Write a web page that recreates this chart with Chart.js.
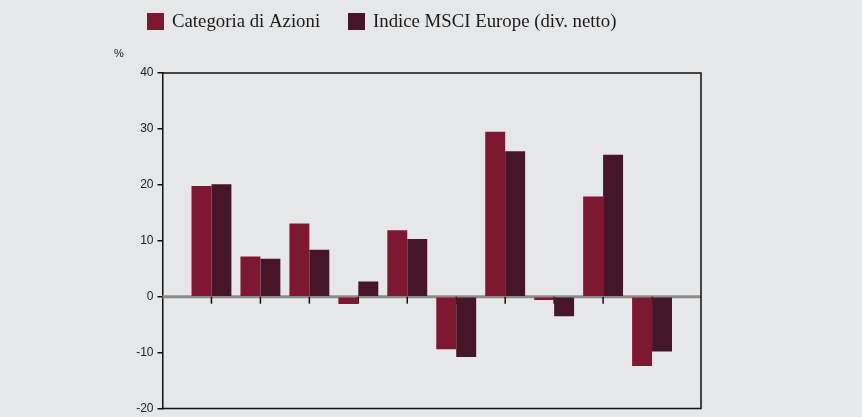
<!DOCTYPE html>
<html>
<head>
<meta charset="utf-8">
<script src="https://cdn.jsdelivr.net/npm/chart.js@4/dist/chart.umd.min.js"></script>
<style>
  html, body { margin: 0; padding: 0; background: #e6e7e9; }
  #wrap { width: 862px; height: 417px; }
</style>
</head>
<body>
<div id="wrap"><canvas id="barChart" width="862" height="417"></canvas></div>
<script>
// Categories: empty slots at both ends keep the axis spacing like the original
const categories = ['', '1', '2', '3', '4', '5', '6', '7', '8', '9', '10', ''];
const seriesNames = ['Categoria di Azioni', 'Indice MSCI Europe (div. netto)'];
const categoriaAzioni = [null, 19.8, 7.2, 13.1, -1.3, 11.9, -9.4, 29.5, -0.6, 17.9, -12.4, null];
const indiceMsci = [null, 20.1, 6.8, 8.4, 2.7, 10.3, -10.8, 26.0, -3.5, 25.4, -9.8, null];
const yTicks = [-20, -10, 0, 10, 20, 30, 40];

const colRed = '#7e1831';
const colDark = '#461628';

// Frame, zero line, x tick marks, unit label and legend
const decorations = {
    id: 'decorations',
    beforeDatasetsDraw(chart) {
        const ctx = chart.ctx;
        const area = chart.chartArea;
        const y0 = chart.scales.y.getPixelForValue(0);
        ctx.save();
        ctx.strokeStyle = '#8c8c8c';
        ctx.lineWidth = 3;
        ctx.beginPath();
        ctx.moveTo(area.left, y0);
        ctx.lineTo(area.right, y0);
        ctx.stroke();

        // short ticks under the zero line at each category
        ctx.strokeStyle = '#111';
        ctx.lineWidth = 1.5;
        for (let i = 1; i < categories.length - 1; i++) {
            const x = chart.scales.x.getPixelForValue(i);
            ctx.beginPath();
            ctx.moveTo(x, y0);
            ctx.lineTo(x, y0 + 7);
            ctx.stroke();
        }
        ctx.restore();
    },
    afterDraw(chart) {
        const ctx = chart.ctx;
        const area = chart.chartArea;
        ctx.save();
        ctx.strokeStyle = '#111';
        ctx.lineWidth = 1.5;
        ctx.beginPath();
        ctx.moveTo(area.left, area.top);
        ctx.lineTo(area.right, area.top);
        ctx.lineTo(area.right, area.bottom);
        ctx.lineTo(area.left, area.bottom);
        ctx.stroke();

        ctx.fillStyle = '#222';
        ctx.font = '11px "Liberation Sans", Arial, sans-serif';
        ctx.textAlign = 'left';
        ctx.textBaseline = 'middle';
        ctx.fillText('%', 114, 54);

        // legend
        const items = [
            { x: 147, color: colRed, text: seriesNames[0] },
            { x: 348, color: colDark, text: seriesNames[1] }
        ];
        ctx.font = '18.8px "Liberation Serif", "Times New Roman", serif';
        items.forEach((it) => {
            ctx.fillStyle = it.color;
            ctx.fillRect(it.x, 13, 17, 17);
            ctx.fillStyle = '#1a1a1a';
            ctx.fillText(it.text, it.x + 25, 22);
        });
        ctx.restore();
    }
};

const data = {
    labels: categories,
    datasets: [
        {
            label: seriesNames[0],
            data: categoriaAzioni,
            backgroundColor: colRed,
            borderWidth: 0,
            barPercentage: 1,
            categoryPercentage: 0.815
        },
        {
            label: seriesNames[1],
            data: indiceMsci,
            backgroundColor: colDark,
            borderWidth: 0,
            barPercentage: 1,
            categoryPercentage: 0.815
        }
    ]
};

const config = {
    type: 'bar',
    data: data,
    options: {
        responsive: false,
        maintainAspectRatio: false,
        animation: false,
        layout: {
            padding: { left: 112.5, top: 73, right: 161, bottom: 8.5 }
        },
        plugins: {
            legend: { display: false },
            tooltip: { enabled: false }
        },
        scales: {
            x: {
                display: false,
                offset: false
            },
            y: {
                min: -20,
                max: 40,
                afterFit: function (scale) {
                    scale.width = 50;
                    scale.paddingTop = 0;
                    scale.paddingBottom = 0;
                },
                afterBuildTicks: function (scale) {
                    scale.ticks = yTicks.map((v) => ({ value: v }));
                },
                border: { display: true, color: '#111', width: 1.5 },
                grid: {
                    drawOnChartArea: false,
                    drawTicks: true,
                    tickLength: 5,
                    color: '#111',
                    lineWidth: 1.5
                },
                ticks: {
                    padding: 4,
                    color: '#222',
                    font: { family: '"Liberation Sans", Arial, sans-serif', size: 12 }
                }
            }
        }
    },
    plugins: [decorations]
};

const ctx = document.getElementById('barChart').getContext('2d');
window.myChart = new Chart(ctx, config);
</script>
</body>
</html>
